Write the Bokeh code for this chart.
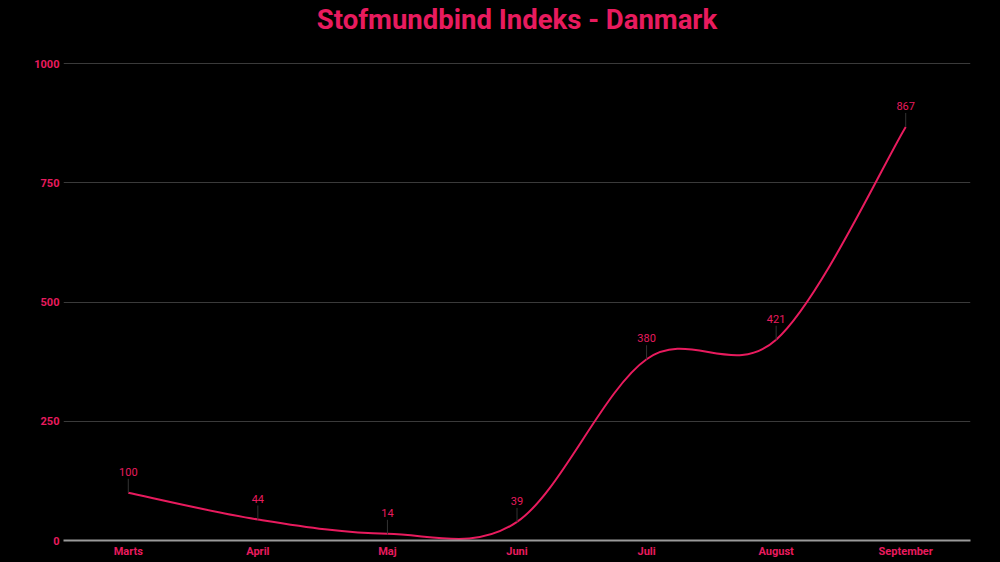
import math
import numpy as np
from bokeh.plotting import figure
from bokeh.models import Range1d, FixedTicker, ColumnDataSource
from bokeh.core.properties import value
from bokeh.embed import file_html
from bokeh.resources import INLINE

months = ["Marts", "April", "Maj", "Juni", "Juli", "August", "September"]
index_values = [100, 44, 14, 39, 380, 421, 867]
y_ticks = [0, 250, 500, 750, 1000]
title_text = "Stofmundbind Indeks - Danmark"

PINK = "#E81B5E"
FONT = "Roboto"

xs = list(range(len(months)))

# Catmull-Rom control points -> cubic Bezier segments
def bez(xv, yv):
    n = len(xv)
    out = dict(x0=[], y0=[], x1=[], y1=[], cx0=[], cy0=[], cx1=[], cy1=[])
    for i in range(n - 1):
        p0 = (xv[max(i - 1, 0)], yv[max(i - 1, 0)])
        p1 = (xv[i], yv[i])
        p2 = (xv[i + 1], yv[i + 1])
        p3 = (xv[min(i + 2, n - 1)], yv[min(i + 2, n - 1)])
        out["x0"].append(p1[0]); out["y0"].append(p1[1])
        out["x1"].append(p2[0]); out["y1"].append(p2[1])
        out["cx0"].append(p1[0] + (p2[0] - p0[0]) / 6)
        out["cy0"].append(p1[1] + (p2[1] - p0[1]) / 6)
        out["cx1"].append(p2[0] - (p3[0] - p1[0]) / 6)
        out["cy1"].append(p2[1] - (p3[1] - p1[1]) / 6)
    return out

# frame spans the full height above the x-axis; the top 63 px hold the title
FRAME_H = 540
y_top = y_ticks[-1] * FRAME_H / (FRAME_H - 63)

p = figure(width=1000, height=562, frame_width=907, frame_height=FRAME_H,
           output_backend="svg", toolbar_location=None,
           x_range=Range1d(-0.5, 6.5), y_range=Range1d(0, y_top),
           min_border_left=63, min_border_right=30, min_border_top=0,
           min_border_bottom=22)

p.background_fill_color = "black"
p.border_fill_color = "black"
p.outline_line_color = None
p.styles = {"background-color": "black"}
p.title.visible = False

p.xgrid.visible = False
p.ygrid.grid_line_color = "#3a3a3a"
p.ygrid.grid_line_width = 1
p.yaxis.ticker = FixedTicker(ticks=y_ticks)
p.xaxis.ticker = FixedTicker(ticks=xs)
p.xaxis.major_label_overrides = {i: m for i, m in enumerate(months)}

for ax in (p.xaxis[0], p.yaxis[0]):
    ax.major_label_text_color = PINK
    ax.major_label_text_font = FONT
    ax.major_label_text_font_size = "11px"
    ax.major_label_text_font_style = "bold"
    ax.major_tick_line_color = None
    ax.minor_tick_line_color = None
    ax.major_tick_out = 0
    ax.major_tick_in = 0
    ax.minor_tick_out = 0
p.yaxis.axis_line_color = None
p.yaxis.major_label_standoff = 4
p.xaxis.axis_line_color = "#9a9a9a"
p.xaxis.axis_line_width = 2
p.xaxis.major_label_standoff = 4

# title
p.text(x=[(len(months) - 1) / 2], y=[y_ticks[-1]], text=[title_text],
       y_offset=-44, text_align="center", text_baseline="middle",
       text_color=PINK, text_font=value(FONT), text_font_size="27.5px",
       text_font_style="bold")

src = ColumnDataSource(bez(xs, index_values))
p.bezier(x0="x0", y0="y0", x1="x1", y1="y1", cx0="cx0", cy0="cy0",
         cx1="cx1", cy1="cy1", source=src, line_color=PINK, line_width=2)

p.ray(x=xs, y=index_values, length=14, angle=math.pi / 2,
      length_units="screen", line_color="#333333", line_width=1)

p.text(x=xs, y=index_values, text=[str(v) for v in index_values],
       y_offset=-17, text_align="center", text_baseline="bottom",
       text_color=PINK, text_font=value(FONT), text_font_size="11px")

html = file_html(p, INLINE)
html = html.replace("<body>", '<body style="margin:0;background:#000">', 1)
open("out.html", "w").write(html)
